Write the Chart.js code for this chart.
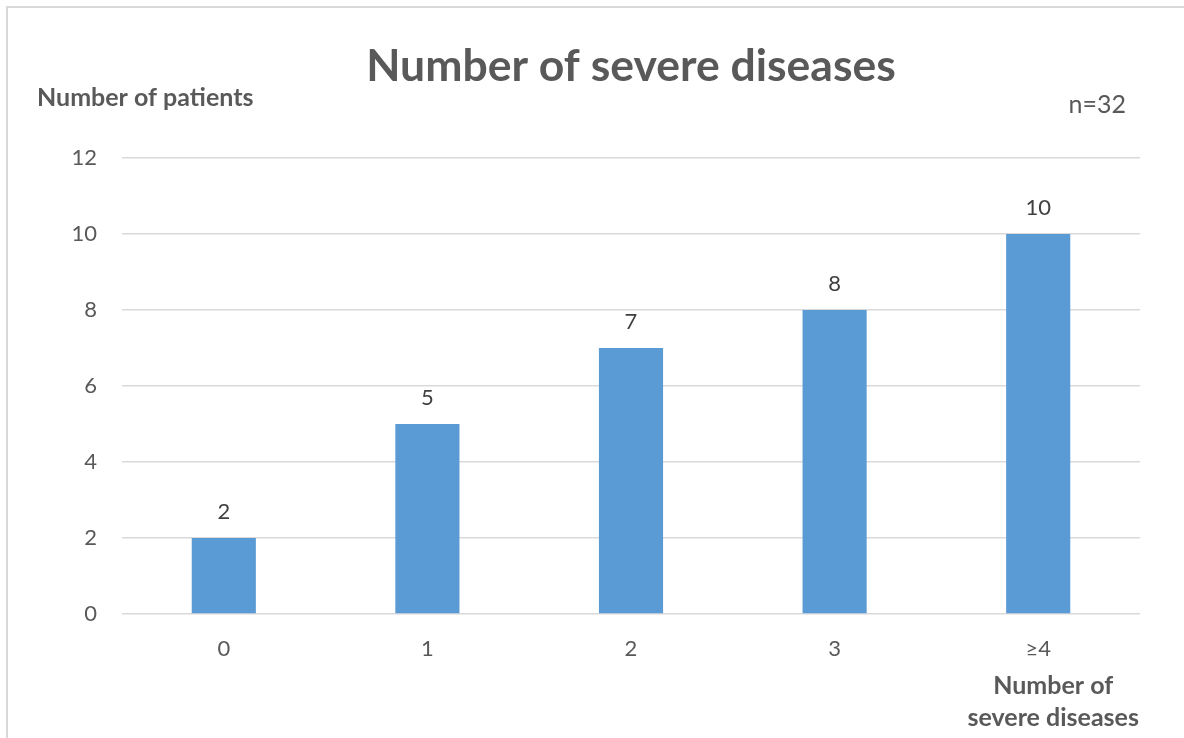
<!DOCTYPE html>
<html>
<head>
<meta charset="utf-8">
<script src="https://cdn.jsdelivr.net/npm/chart.js@4.4.1/dist/chart.umd.min.js"></script>
<style>
  html, body { margin: 0; padding: 0; background: #fff; }
  #wrap { position: relative; width: 1184px; height: 738px; }
</style>
</head>
<body>
<div id="wrap"><canvas id="chart" width="1184" height="738"></canvas></div>
<script>
// Patients grouped by how many severe diseases they have
const categories = ['0', '1', '2', '3', '\u22654'];
const patientCounts = [2, 5, 7, 8, 10];
const yTicks = [0, 2, 4, 6, 8, 10, 12];

const chartTitle = 'Number of severe diseases';
const yAxisTitle = 'Number of patients';
const xAxisTitle = ['Number of', 'severe diseases'];
const sampleNote = 'n=32';

const FONT = "Lato, 'Open Sans', sans-serif";
const TEXT = '#595959';

// Frame, headings and value labels drawn straight onto the canvas
const decorations = {
    id: 'decorations',
    beforeDraw(chart) {
        const ctx = chart.ctx;
        ctx.save();
        ctx.fillStyle = '#fff';
        ctx.fillRect(0, 0, chart.width, chart.height);
        ctx.strokeStyle = '#d9d9d9';
        ctx.lineWidth = 2;
        ctx.strokeRect(7, 7, chart.width + 20, chart.height + 20);
        ctx.restore();
    },
    afterDraw(chart) {
        const ctx = chart.ctx;
        const area = chart.chartArea;
        ctx.save();
        ctx.fillStyle = TEXT;
        ctx.textBaseline = 'alphabetic';

        ctx.font = `bold 44.5px ${FONT}`;
        ctx.textAlign = 'center';
        ctx.fillText(chartTitle, (area.left + area.right) / 2, 81);

        ctx.font = `bold 25px ${FONT}`;
        ctx.textAlign = 'left';
        ctx.fillText(yAxisTitle, 37, 106);

        ctx.textAlign = 'center';
        const xt = chart.scales.x.getPixelForValue(categories.length - 1) + 15;
        ctx.fillText(xAxisTitle[0], xt, 694);
        ctx.fillText(xAxisTitle[1], xt, 726);

        ctx.font = `25px ${FONT}`;
        ctx.textAlign = 'right';
        ctx.fillText(sampleNote, 1126, 113);

        // value above each bar
        ctx.fillStyle = '#404040';
        ctx.font = `22px ${FONT}`;
        ctx.textAlign = 'center';
        const meta = chart.getDatasetMeta(0);
        meta.data.forEach((bar, i) => {
            ctx.fillText(String(patientCounts[i]), bar.x, bar.y - 19);
        });
        ctx.restore();
    }
};

new Chart(document.getElementById('chart').getContext('2d'), {
    type: 'bar',
    data: {
        labels: categories,
        datasets: [{
            data: patientCounts,
            backgroundColor: '#5b9bd5',
            borderWidth: 0,
            categoryPercentage: 1,
            barPercentage: 0.315
        }]
    },
    plugins: [decorations],
    options: {
        responsive: false,
        animation: false,
        devicePixelRatio: 1,
        layout: { padding: { top: 158, right: 44, bottom: 0, left: 0 } },
        plugins: {
            legend: { display: false },
            tooltip: { enabled: false },
            title: { display: false }
        },
        scales: {
            x: {
                grid: { display: false },
                border: { display: false },
                ticks: {
                    color: TEXT,
                    font: { family: FONT, size: 22 },
                    padding: 14
                },
                afterFit(scale) { scale.height = 124; }
            },
            y: {
                min: 0,
                max: 12,
                grid: { color: '#d9d9d9', lineWidth: 1.5, drawTicks: false },
                border: { display: false },
                afterBuildTicks(scale) {
                    scale.ticks = yTicks.map(v => ({ value: v }));
                },
                ticks: {
                    color: TEXT,
                    font: { family: FONT, size: 22 },
                    padding: 25
                },
                afterFit(scale) { scale.width = 122; }
            }
        }
    }
});
</script>
</body>
</html>
